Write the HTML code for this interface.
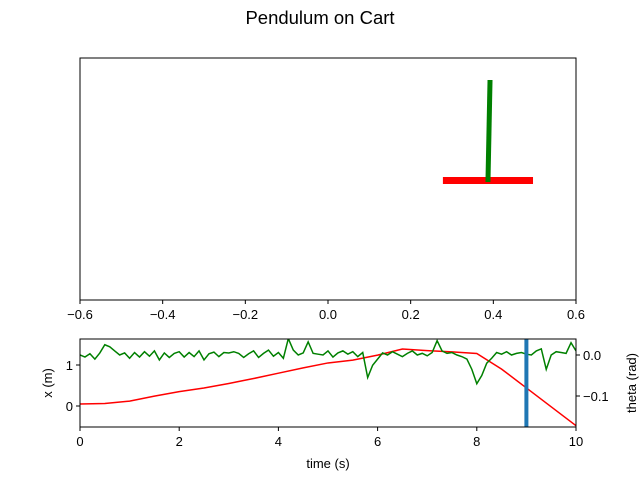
<!DOCTYPE html>
<html><head><meta charset="utf-8"><style>
body{margin:0;background:#fff}
svg text{font-family:"Liberation Sans",sans-serif;font-size:13px;fill:#000}
</style></head><body>
<svg id="c" width="640" height="480" viewBox="0 0 640 480">
<text x="320" y="24" text-anchor="middle" style="font-size:18.5px">Pendulum on Cart</text>
<g id="topAxes"></g>
<g id="botAxes"></g>
</svg>
<script>
// top animation frame data
const cartX = 0.387;
const cartHalfWidth = 0.109;
const poleTopX = 0.392;
const topTicks = [-0.6,-0.4,-0.2,0.0,0.2,0.4,0.6];
// bottom chart data
const xTimes = [0,0.5,1,1.5,2,2.5,3,3.5,4,4.5,5,5.5,6,6.5,7,7.5,8,8.5,9,9.5,10];
const xValues = [0.05,0.06,0.12,0.24,0.35,0.44,0.55,0.67,0.80,0.93,1.05,1.12,1.24,1.39,1.35,1.32,1.28,0.90,0.44,-0.02,-0.48];
const thetaValues = [0.00,-0.005,0.003,-0.01,0.005,0.025,0.02,0.01,0.0,0.005,
-0.008,0.006,-0.005,0.008,-0.003,0.01,-0.012,0.005,-0.006,0.004,
0.008,-0.005,0.006,-0.004,0.01,-0.012,0.003,0.007,-0.004,0.006,
0.005,0.008,0.004,-0.006,0.003,0.01,-0.006,0.004,0.012,-0.003,
0.006,-0.008,0.04,0.012,0.0,0.005,0.032,0.004,0.002,0.0,
0.01,-0.005,0.005,0.01,0.002,0.008,-0.004,0.006,-0.055,-0.025,
-0.01,0.005,0.0,0.008,0.002,-0.004,0.004,0.01,0.0,0.004,
-0.002,0.006,0.035,0.01,0.004,0.006,0.0,-0.004,-0.01,-0.035,
-0.07,-0.05,-0.02,-0.008,0.006,0.002,0.008,0.0,0.004,0.006,
0.002,0.0,0.01,0.015,-0.035,0.0,0.008,0.006,0.004,0.03,0.01];
const thetaDt = 0.1;
const currentTime = 9;
const timeTicks = [0,2,4,6,8,10];
const xTicks = [0,1];
const thetaTicks = [0.0,-0.1];

const NS="http://www.w3.org/2000/svg";
function mk(p,tag,at){const e=document.createElementNS(NS,tag);for(const k in at)e.setAttribute(k,at[k]);p.appendChild(e);return e;}
const topG=document.getElementById('topAxes'), botG=document.getElementById('botAxes');
const TX=v=>80+(v+0.6)/1.2*496;
let r=mk(topG,'rect',{x:80,y:58,width:496,height:242,fill:'none',stroke:'#000','stroke-width':1});


topTicks.forEach(t=>{
  const x=TX(t);
  mk(topG,'line',{x1:x,x2:x,y1:300,y2:304,stroke:'#000'});
  const tx=mk(topG,'text',{x:x,y:319,'text-anchor':'middle'});
  tx.textContent=(t<0?'\u2212':'')+Math.abs(t).toFixed(1);
  
  
});
let cart=mk(topG,'line',{x1:TX(cartX-cartHalfWidth),x2:TX(cartX+cartHalfWidth),y1:180.5,y2:180.5,stroke:'#ff0000','stroke-width':7});


let pole=mk(topG,'line',{x1:TX(cartX),y1:182,x2:TX(poleTopX),y2:80,stroke:'#008000','stroke-width':5});


const L=80,R=576,T=339,B=427;
const BX=t=>L+t/10*(R-L);
const YL=v=>406-v*41;
const YR=v=>355-v*410;
const cp=mk(botG,'clipPath',{id:'cp'});mk(cp,'rect',{x:L,y:T,width:R-L,height:B-T});
const g=mk(botG,'g',{'clip-path':'url(#cp)'});
let px=mk(g,'polyline',{points:xTimes.map((t,i)=>BX(t)+','+YL(xValues[i])).join(' '),fill:'none',stroke:'#ff0000','stroke-width':1.5});


let pt=mk(g,'polyline',{points:thetaValues.map((v,i)=>BX(i*thetaDt)+','+YR(v)).join(' '),fill:'none',stroke:'#008000','stroke-width':1.5});


let cur=mk(g,'line',{x1:BX(currentTime),x2:BX(currentTime),y1:T,y2:B,stroke:'#1f77b4','stroke-width':4});


let f=mk(botG,'rect',{x:L,y:T,width:R-L,height:B-T,fill:'none',stroke:'#000'});


timeTicks.forEach(t=>{
  const x=BX(t);mk(botG,'line',{x1:x,x2:x,y1:B,y2:B+4,stroke:'#000'});
  const tx=mk(botG,'text',{x:x,y:446,'text-anchor':'middle'});tx.textContent=t;
  
  
});
xTicks.forEach(v=>{
  const y=YL(v);mk(botG,'line',{x1:L-4,x2:L,y1:y,y2:y,stroke:'#000'});
  const tx=mk(botG,'text',{x:L-7,y:y+5,'text-anchor':'end'});tx.textContent=v;
  
  
});
thetaTicks.forEach(v=>{
  const y=YR(v);mk(botG,'line',{x1:R,x2:R+4,y1:y,y2:y,stroke:'#000'});
  const tx=mk(botG,'text',{x:R+7,y:y+5});tx.textContent=(v<0?'\u2212':'')+Math.abs(v).toFixed(1);
  
  
});
let xl=mk(botG,'text',{x:328,y:468,'text-anchor':'middle'});xl.textContent='time (s)';


let yl=mk(botG,'text',{x:0,y:0,'text-anchor':'middle',transform:'translate(52,383) rotate(-90)'});yl.textContent='x (m)';


let yr=mk(botG,'text',{x:0,y:0,'text-anchor':'middle',transform:'translate(636,383) rotate(-90)'});yr.textContent='theta (rad)';


</script>
</body></html>
